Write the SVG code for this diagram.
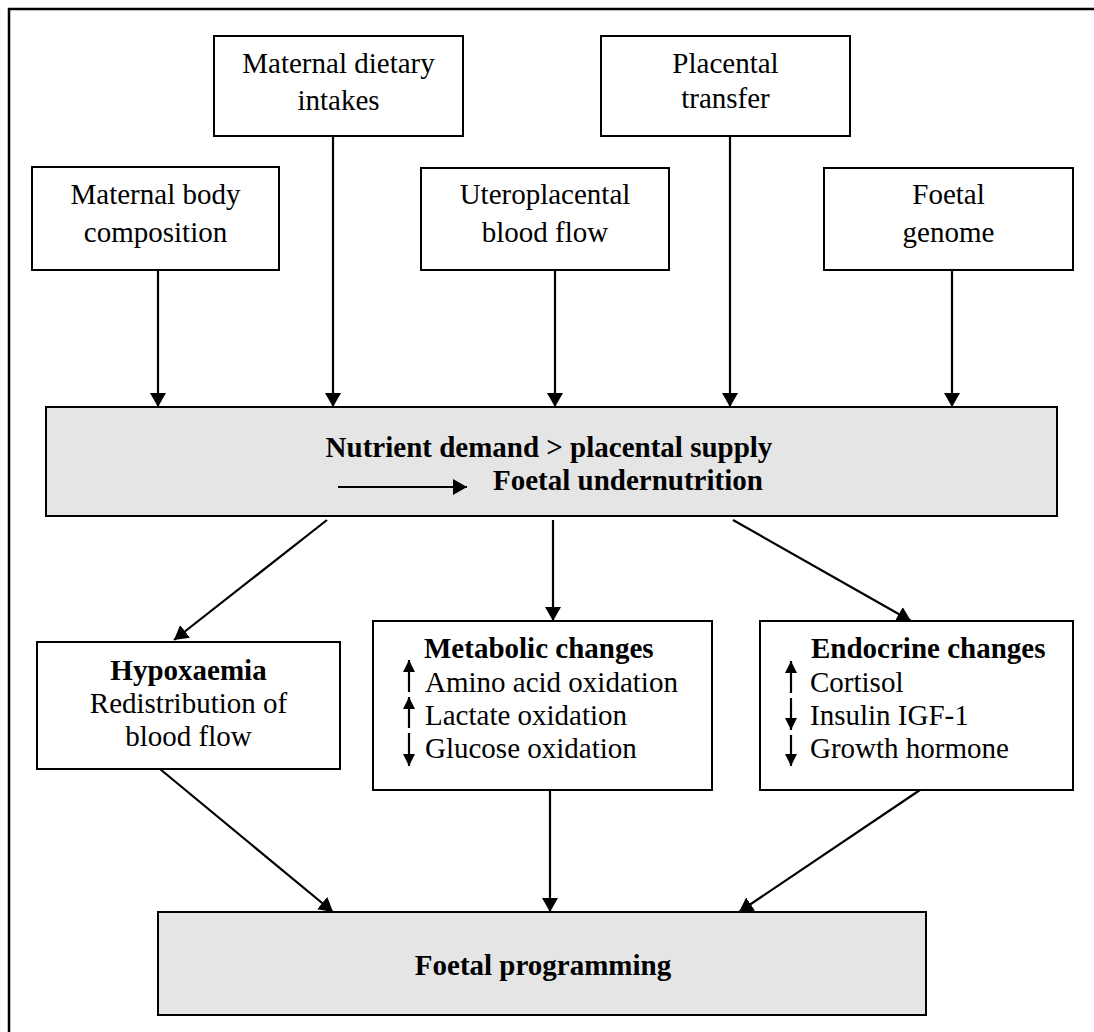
<svg xmlns="http://www.w3.org/2000/svg" width="1094" height="1032" viewBox="0 0 1094 1032">
<defs>
<style>
.box{fill:#fff;stroke:#000;stroke-width:2}
.grey{fill:#e5e5e5;stroke:#000;stroke-width:2}
.t{font-family:"Liberation Serif","Times New Roman",serif;font-size:29px;fill:#000}
.c{text-anchor:middle}
.b{font-weight:bold}
.con{stroke:#000;stroke-width:2.2;fill:none}
</style>
<marker id="ah" markerUnits="userSpaceOnUse" markerWidth="16" markerHeight="17" refX="14" refY="8" orient="auto">
<path d="M0,0 L14,8 L0,16 z" fill="#000"/>
</marker>
<marker id="sh" markerUnits="userSpaceOnUse" markerWidth="14" markerHeight="14" refX="12" refY="6" orient="auto">
<path d="M0,0 L12,6 L0,12 z" fill="#000"/>
</marker>
</defs>
<rect width="1094" height="1032" fill="#fff"/>
<path d="M9,1032 V9 H1094" fill="none" stroke="#000" stroke-width="2.5"/>

<g id="maternal-body">
<rect class="box" x="32" y="167" width="247" height="103"/>
<text class="t c" x="155.5" y="204">Maternal body</text>
<text class="t c" x="155.5" y="242">composition</text>
</g>
<g id="maternal-diet">
<rect class="box" x="214" y="36" width="249" height="100"/>
<text class="t c" x="338.5" y="73">Maternal dietary</text>
<text class="t c" x="338.5" y="110">intakes</text>
</g>
<g id="uteroplacental">
<rect class="box" x="421" y="168" width="248" height="102"/>
<text class="t c" x="545" y="204">Uteroplacental</text>
<text class="t c" x="545" y="242">blood flow</text>
</g>
<g id="placental-transfer">
<rect class="box" x="601" y="36" width="249" height="100"/>
<text class="t c" x="725.5" y="73">Placental</text>
<text class="t c" x="725.5" y="108">transfer</text>
</g>
<g id="foetal-genome">
<rect class="box" x="824" y="168" width="249" height="102"/>
<text class="t c" x="948.5" y="204">Foetal</text>
<text class="t c" x="948.5" y="242">genome</text>
</g>

<g id="nutrient">
<rect class="grey" x="46" y="407" width="1011" height="109"/>
<text class="t c b" x="549" y="457">Nutrient demand &gt; placental supply</text>
<text class="t b" x="493" y="490">Foetal undernutrition</text>
<line class="con" x1="338" y1="487" x2="467" y2="487" marker-end="url(#ah)"/>
</g>

<g id="hypoxaemia">
<rect class="box" x="37" y="642" width="303" height="127"/>
<text class="t c b" x="188.5" y="680">Hypoxaemia</text>
<text class="t c" x="188.5" y="713">Redistribution of</text>
<text class="t c" x="188.5" y="746">blood flow</text>
</g>
<g id="metabolic">
<rect class="box" x="373" y="621" width="339" height="169"/>
<text class="t b" x="424" y="658">Metabolic changes</text>
<text class="t" x="425" y="692">Amino acid oxidation</text>
<text class="t" x="425" y="725">Lactate oxidation</text>
<text class="t" x="425" y="758">Glucose oxidation</text>
<line class="con" x1="409" y1="692" x2="409" y2="660" marker-end="url(#sh)"/>
<line class="con" x1="409" y1="728" x2="409" y2="697" marker-end="url(#sh)"/>
<line class="con" x1="409" y1="733" x2="409" y2="766" marker-end="url(#sh)"/>
</g>
<g id="endocrine">
<rect class="box" x="760" y="621" width="313" height="169"/>
<text class="t b" x="811" y="658">Endocrine changes</text>
<text class="t" x="810" y="692">Cortisol</text>
<text class="t" x="810" y="725">Insulin IGF-1</text>
<text class="t" x="810" y="758">Growth hormone</text>
<line class="con" x1="791" y1="693" x2="791" y2="661" marker-end="url(#sh)"/>
<line class="con" x1="791" y1="698" x2="791" y2="730" marker-end="url(#sh)"/>
<line class="con" x1="791" y1="735" x2="791" y2="766" marker-end="url(#sh)"/>
</g>
<g id="programming">
<rect class="grey" x="158" y="912" width="768" height="103"/>
<text class="t c b" x="543" y="975">Foetal programming</text>
</g>

<g id="connectors">
<line class="con" x1="158" y1="270" x2="158" y2="407" marker-end="url(#ah)"/>
<line class="con" x1="333" y1="136" x2="333" y2="407" marker-end="url(#ah)"/>
<line class="con" x1="555" y1="270" x2="555" y2="407" marker-end="url(#ah)"/>
<line class="con" x1="730" y1="136" x2="730" y2="407" marker-end="url(#ah)"/>
<line class="con" x1="952" y1="270" x2="952" y2="407" marker-end="url(#ah)"/>
<line class="con" x1="327" y1="520" x2="174" y2="640" marker-end="url(#ah)"/>
<line class="con" x1="553" y1="520" x2="553" y2="621" marker-end="url(#ah)"/>
<line class="con" x1="733" y1="520" x2="911" y2="621" marker-end="url(#ah)"/>
<line class="con" x1="160" y1="769" x2="333" y2="912" marker-end="url(#ah)"/>
<line class="con" x1="550" y1="790" x2="550" y2="912" marker-end="url(#ah)"/>
<line class="con" x1="920" y1="790" x2="739" y2="912" marker-end="url(#ah)"/>
</g>
</svg>
